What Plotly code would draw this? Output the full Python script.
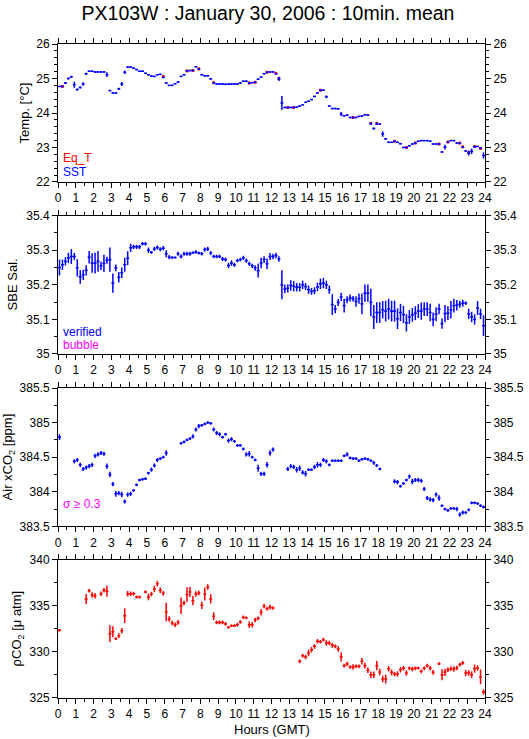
import plotly.graph_objects as go

# ---------------- data (10-minute means, slot centres at xx:05, xx:15, ...) ----------------
hours = [(k + 0.5) / 6 for k in range(144)]
N = None

sst = [
    24.77, 24.77, 24.87, 25.00, 25.05, 24.82,
    24.68, 24.74, 24.84, 25.14, 25.21, 25.21,
    25.19, 25.19, 25.19, 25.19, 25.11, 24.65,
    24.58, 24.58, 24.70, 24.84, 25.18, 25.33,
    25.33, 25.30, 25.26, 25.21, 25.21, 25.15,
    25.11, 25.07, 25.06, 25.11, 25.12, 25.03,
    24.87, 24.80, 24.80, 24.85, 24.90, 25.06,
    25.11, 25.22, 25.23, 25.23, 25.34, 25.27,
    25.11, 25.08, 25.08, 24.99, 24.87, 24.84,
    24.84, 24.84, 24.83, 24.84, 24.84, 24.84,
    24.84, 24.87, 24.92, 24.92, 24.87, 24.88,
    24.89, 24.98, 25.04, 25.14, 25.18, 25.19,
    25.19, 25.14, 24.99, 24.29, 24.16, 24.16,
    24.16, 24.16, 24.17, 24.20, 24.24, 24.31,
    24.34, 24.39, 24.48, 24.58, 24.66, 24.66,
    24.47, 24.20, 24.13, 24.13, 24.12, 23.97,
    23.92, 23.94, 23.87, 23.87, 23.87, 23.90,
    23.91, 23.95, 23.94, 23.69, 23.55, 23.69,
    23.68, 23.39, 23.25, 23.15, 23.15, 23.18,
    23.15, 23.11, 23.00, 23.00, 23.05, 23.10,
    23.13, 23.18, 23.20, 23.20, 23.20, 23.18,
    23.10, 23.10, 23.10, 22.87, 23.01, 23.15,
    23.20, 23.20, 23.13, 23.12, 23.01, 22.90,
    22.84, 22.89, 23.02, 23.03, 22.98, 22.77,
]
sst_err = [
    .02, .02, .03, .03, .03, .09,
    .03, .03, .05, .03, .02, .02,
    .02, .02, .02, .02, .07, .02,
    .02, .02, .03, .06, .05, .02,
    .02, .02, .02, .02, .02, .02,
    .02, .02, .02, .02, .02, .02,
    .02, .02, .02, .02, .02, .02,
    .02, .02, .02, .02, .02, .02,
    .02, .02, .02, .02, .02, .02,
    .02, .02, .02, .02, .02, .02,
    .02, .02, .02, .02, .02, .02,
    .02, .02, .02, .02, .02, .02,
    .02, .02, .06, .20, .02, .02,
    .02, .02, .02, .02, .02, .02,
    .02, .02, .02, .02, .02, .02,
    .04, .02, .02, .02, .02, .06,
    .02, .02, .02, .02, .02, .02,
    .02, .02, .02, .03, .03, .03,
    .02, .08, .02, .02, .02, .02,
    .02, .02, .02, .02, .02, .02,
    .02, .02, .02, .02, .02, .02,
    .02, .02, .02, .02, .07, .02,
    .02, .02, .02, .02, .02, .02,
    .07, .08, .03, .02, .02, .09,
]

eqt_hours = [0.25, 5.917, 7.25, 7.583, 7.917, 8.75, 10.75, 11.083, 11.75, 12.25, 12.417,
             12.917, 13.25, 14.75, 16.583, 17.583, 17.917, 18.917, 19.583, 20.083, 21.417,
             21.917, 22.583, 22.75, 23.083, 23.417, 23.75]
eqt = [24.77, 25.06, 25.22, 25.23, 25.28, 24.88, 24.87, 24.89, 25.18, 25.15, 25.00,
       24.16, 24.16, 24.66, 23.87, 23.70, 23.70, 23.18, 23.00, 23.13, 23.10,
       23.16, 23.13, 23.02, 22.85, 23.03, 22.97]

sal = [
    35.250, 35.258, 35.268, 35.278, 35.282, 35.282,
    35.249, 35.223, 35.229, 35.242, 35.280, 35.263,
    35.263, 35.268, 35.255, 35.262, 35.271, 35.273,
    35.205, 35.249, 35.222, 35.235, 35.258, 35.277,
    35.307, 35.310, 35.310, 35.310, 35.319, 35.319,
    35.300, 35.294, 35.304, 35.308, 35.303, 35.306,
    35.290, 35.280, 35.279, 35.279, 35.290, 35.282,
    35.290, 35.290, 35.290, 35.293, 35.295, 35.292,
    35.290, 35.302, 35.304, 35.292, 35.282, 35.282,
    35.282, 35.275, 35.273, 35.256, 35.263, 35.258,
    35.270, 35.273, 35.278, 35.270, 35.261, 35.255,
    35.249, 35.241, 35.263, 35.273, 35.261, 35.282,
    35.282, 35.285, 35.275, 35.200, 35.188, 35.190,
    35.198, 35.196, 35.193, 35.193, 35.200, 35.195,
    35.186, 35.181, 35.183, 35.194, 35.203, 35.205,
    35.200, 35.186, 35.143, 35.130, 35.149, 35.165,
    35.140, 35.157, 35.162, 35.160, 35.152, 35.160,
    35.145, 35.176, 35.176, 35.149, 35.107, 35.120,
    35.120, 35.128, 35.124, 35.130, 35.124, 35.124,
    35.102, 35.120, 35.114, 35.090, 35.107, 35.113,
    35.118, 35.124, 35.124, 35.130, 35.130, 35.120,
    35.100, 35.115, 35.130, 35.088, 35.117, 35.118,
    35.128, 35.140, 35.141, 35.144, 35.147, 35.147,
    35.116, 35.107, 35.100, 35.133, 35.116, 35.082,
]
sal_err = [
    .023, .015, .012, .015, .022, .010,
    .025, .020, .015, .015, .018, .028,
    .030, .030, .012, .025, .010, .035,
    .028, .010, .015, .015, .020, .020,
    .012, .006, .006, .006, .005, .005,
    .008, .004, .006, .006, .006, .006,
    .010, .006, .004, .003, .006, .006,
    .006, .006, .006, .004, .005, .004,
    .005, .006, .006, .006, .005, .005,
    .005, .006, .006, .008, .008, .006,
    .005, .005, .006, .006, .006, .006,
    .008, .020, .015, .010, .015, .010,
    .008, .008, .008, .042, .012, .012,
    .015, .015, .012, .012, .012, .010,
    .012, .010, .010, .012, .015, .015,
    .012, .012, .030, .012, .010, .012,
    .020, .010, .010, .008, .015, .015,
    .030, .025, .025, .040, .035, .030,
    .030, .025, .030, .030, .030, .030,
    .030, .025, .025, .025, .020, .020,
    .020, .020, .025, .020, .020, .025,
    .020, .020, .015, .015, .025, .020,
    .025, .020, .015, .010, .010, .005,
    .015, .015, .015, .020, .015, .030,
]

air = [
    384.79, N, N, N, N, 384.44,
    384.46, 384.39, 384.33, 384.35, 384.37, 384.39,
    384.52, 384.54, 384.56, 384.55, 384.37, 384.25,
    384.11, 383.97, 383.98, 383.96, 383.86, 383.96,
    383.97, 384.02, 384.10, 384.17, 384.18, 384.19,
    384.27, 384.32, 384.38, 384.46, 384.48, 384.50,
    384.56, N, N, N, N, 384.70,
    384.72, 384.75, 384.77, 384.80, 384.90, 384.95,
    384.96, 384.98, 385.00, 384.99, 384.90, 384.85,
    384.83, 384.79, 384.83, 384.74, 384.76, 384.73,
    384.67, 384.67, 384.62, 384.54, 384.55, 384.50,
    384.46, 384.34, 384.26, 384.26, 384.39, 384.56,
    384.61, N, N, N, N, 384.33,
    384.37, 384.36, 384.32, 384.34, 384.28, 384.26,
    384.32, 384.32, 384.36, 384.39, 384.39, 384.46,
    384.44, 384.39, 384.45, 384.45, 384.45, 384.45,
    384.52, 384.54, 384.49, 384.48, 384.48, 384.45,
    384.47, 384.48, 384.47, 384.45, 384.42, 384.38,
    384.33, N, N, N, N, 384.15,
    384.14, 384.08, 384.12, 384.17, 384.22, 384.15,
    384.17, 384.17, 384.16, 384.04, 383.91, 383.89,
    383.88, 383.96, 383.91, 383.80, 383.75, 383.73,
    383.76, 383.76, 383.75, 383.67, 383.70, 383.70,
    383.74, 383.84, 383.84, 383.83, 383.80, 383.78,
]
air_err = [
    .04, 0, 0, 0, 0, .03,
    .03, .03, .03, .03, .03, .03,
    .03, .03, .03, .03, .04, .04,
    .03, .04, .03, .04, .03, .03,
    .03, .02, .02, .02, .02, .02,
    .02, .03, .03, .03, .02, .02,
    .04, 0, 0, 0, 0, .02,
    .02, .02, .02, .03, .03, .03,
    .02, .02, .02, .02, .03, .03,
    .03, .02, .02, .03, .03, .02,
    .02, .02, .02, .03, .04, .02,
    .02, .05, .03, .03, .04, .04,
    .03, 0, 0, 0, 0, .03,
    .03, .03, .04, .04, .03, .04,
    .02, .02, .03, .04, .03, .03,
    .03, .02, .02, .02, .02, .02,
    .02, .03, .02, .02, .02, .02,
    .02, .02, .02, .02, .03, .02,
    .02, 0, 0, 0, 0, .03,
    .03, .02, .02, .02, .03, .04,
    .03, .03, .03, .03, .03, .03,
    .03, .03, .04, .02, .02, .02,
    .02, .02, .03, .03, .03, .02,
    .02, .02, .02, .02, .02, .02,
]

pco2 = [
    332.34, N, N, N, N, N,
    N, N, N, 335.74, 336.64, 336.17,
    336.10, N, 336.31, 336.68, 336.57, 331.98,
    332.19, 331.43, 331.76, 332.30, 333.93, 336.31,
    336.31, 336.31, 335.95, 335.95, N, 336.50,
    335.95, 336.28, 336.82, 337.40, 336.68, 336.35,
    334.33, 333.57, 333.13, 332.95, 333.20, 335.01,
    335.30, 336.20, 336.50, 335.55, 336.28, 336.39,
    335.05, 336.28, 337.04, 335.74, 333.86, 333.20,
    333.20, 333.20, 333.03, 332.66, 332.84, 332.84,
    332.95, 333.24, 333.75, 333.70, 332.95, 332.95,
    333.46, 333.64, 334.29, 334.97, 334.69, 334.85,
    334.76, N, N, N, N, N,
    N, N, N, 328.98, 329.59, 329.45,
    329.88, 330.24, 330.60, 331.15, 331.10, 331.33,
    330.96, 330.96, 330.71, 330.60, 330.31, 329.45,
    328.51, 328.69, 328.36, 328.36, 328.43, 328.43,
    328.98, 328.51, 328.00, 327.53, 327.53, 328.51,
    327.82, 327.06, 327.06, 328.18, 327.78, 327.60,
    327.60, 328.07, 328.22, 327.71, 328.22, 328.15,
    328.22, 328.25, 327.89, 328.22, 328.51, 328.22,
    327.78, N, 328.72, 327.53, 327.78, 328.07,
    328.18, 328.15, 328.25, 328.62, 328.80, 327.71,
    327.71, 327.53, 328.18, 328.25, 327.28, 325.65,
]
pco2_err = [
    .15, 0, 0, 0, 0, 0,
    0, 0, 0, .55, .20, .30,
    .30, 0, .25, .25, .60, .90,
    .60, .15, .25, .30, .80, .30,
    .25, .20, .15, .15, 0, .15,
    .35, .25, .35, .30, .30, .25,
    1.00, .30, .25, .25, .25, .90,
    .25, .80, .55, .50, .30, .25,
    .40, .70, .30, .50, .40, .20,
    .20, .20, .20, .15, .15, .15,
    .20, .20, .20, .15, .35, .30,
    .25, .20, .35, .25, .20, .25,
    .20, 0, 0, 0, 0, 0,
    0, 0, 0, .20, .20, .25,
    .35, .30, .25, .25, .20, .20,
    .30, .25, .25, .20, .30, .50,
    .20, .25, .20, .30, .20, .20,
    .35, .30, .30, .35, .35, .50,
    .35, .35, .50, .30, .30, .25,
    .30, .30, .25, .30, .20, .25,
    .20, .15, .20, .20, .20, .25,
    .25, 0, .15, .60, .40, .25,
    .25, .30, .25, .20, .20, .35,
    .30, .35, .45, .30, .80, .30,
]

hour_ticks = list(range(0, 25))

BLUE = "#0000FF"
RED = "#FF0000"
MAGENTA = "#FF00FF"
FONT = "Liberation Sans, Arial, Helvetica, sans-serif"

FIG_W, FIG_H = 529, 739

fig = go.Figure()


def add_series(x, y, err, color, xa, ya, half_w=1 / 12, thick=1.5):
    fig.add_trace(go.Scatter(
        x=x, y=y, mode="markers", xaxis=xa, yaxis=ya,
        marker=dict(size=1, color=color),
        error_x=dict(type="constant", value=half_w, width=0, thickness=thick, color=color),
        error_y=dict(type="data", array=err, width=0, thickness=thick, color=color),
        showlegend=False, hoverinfo="x+y",
    ))


# Panel 1: Eq_T underneath SST
fig.add_trace(go.Scatter(
    x=eqt_hours, y=eqt, mode="markers", xaxis="x", yaxis="y",
    marker=dict(size=1, color=RED),
    error_x=dict(type="constant", value=0.07, width=0, thickness=3, color=RED),
    showlegend=False,
))
add_series(hours, sst, sst_err, BLUE, "x", "y")
add_series(hours, sal, sal_err, BLUE, "x2", "y2")
add_series(hours, air, air_err, BLUE, "x3", "y3")
add_series(hours, pco2, pco2_err, RED, "x4", "y4")

# geometry (page pixels of the plot area)
PLOT_TOP, PLOT_BOT, PLOT_L, PLOT_R = 44.3, 698.3, 58.3, 485.3
PLOT_W = PLOT_R - PLOT_L
PLOT_H = PLOT_BOT - PLOT_TOP

domains = [[0.789, 1.0], [0.526, 0.7375], [0.2624, 0.474], [0.0, 0.2115]]
yranges = [[22, 26], [35.0, 35.4], [383.5, 385.5], [325, 340]]
ydticks = [1, 0.1, 0.5, 5]
yminor = [0.2, 0.05, 0.25, 2.5]
tickfont = dict(family=FONT, size=12, color="black")

layout = dict(
    width=FIG_W, height=FIG_H,
    margin=dict(l=PLOT_L, r=FIG_W - PLOT_R, t=PLOT_TOP, b=FIG_H - PLOT_BOT, pad=0),
    paper_bgcolor="white", plot_bgcolor="white",
    title=dict(text="PX103W : January 30, 2006 : 10min. mean", x=268 / FIG_W,
               xanchor="center", y=1 - 13 / FIG_H, yanchor="middle", yref="container",
               font=dict(family=FONT, size=19.5, color="black")),
    showlegend=False,
    hovermode=False,
)

for i in range(4):
    n = i + 1
    xs = "" if n == 1 else str(n)
    layout["xaxis" + xs] = dict(
        domain=[0, 1], anchor="y" + xs, range=[0, 24],
        tickmode="array", tickvals=hour_ticks, ticktext=[str(h) for h in hour_ticks],
        ticks="outside", ticklen=5, tickwidth=1, tickcolor="black",
        minor=dict(dtick=0.5, tick0=0, ticks="outside", ticklen=3, tickwidth=1, tickcolor="black"),
        showline=True, linecolor="black", linewidth=1, mirror="ticks",
        showgrid=False, zeroline=False, tickfont=tickfont, automargin=False,
    )
    layout["yaxis" + xs] = dict(
        domain=domains[i], anchor="x" + xs, range=yranges[i],
        dtick=ydticks[i], tick0=yranges[i][0],
        ticks="outside", ticklen=5, tickwidth=1, tickcolor="black",
        minor=dict(dtick=yminor[i], ticks="outside", ticklen=3, tickwidth=1, tickcolor="black"),
        showline=True, linecolor="black", linewidth=1,
        showgrid=False, zeroline=False, tickfont=tickfont, automargin=False,
    )
    rs = str(n + 4)
    layout["yaxis" + rs] = dict(
        overlaying="y" + xs, side="right", anchor="x" + xs, range=yranges[i],
        dtick=ydticks[i], tick0=yranges[i][0],
        ticks="outside", ticklen=5, tickwidth=1, tickcolor="black",
        minor=dict(dtick=yminor[i], ticks="outside", ticklen=3, tickwidth=1, tickcolor="black"),
        showline=True, linecolor="black", linewidth=1,
        showgrid=False, zeroline=False, tickfont=tickfont, automargin=False,
    )

fig.update_layout(**layout)

# invisible traces so the right axes render
for i in range(4):
    xs = "" if i == 0 else str(i + 1)
    fig.add_trace(go.Scatter(x=[None], y=[None], xaxis="x" + xs, yaxis="y" + str(i + 5),
                             showlegend=False, hoverinfo="skip"))


def px(xp):
    return (xp - PLOT_L) / PLOT_W


def py(yp):
    return (PLOT_BOT - yp) / PLOT_H


ann = []
ytitles = [("Temp. [°C]", 25, 113), ("SBE Sal.", 13, 285),
           ("Air xCO<sub>2</sub> [ppm]", 9, 457), ("ρCO<sub>2</sub> [μ atm]", 18, 629)]
for txt, xp, yp in ytitles:
    ann.append(dict(text=txt, x=px(xp), y=py(yp), xref="paper", yref="paper",
                    xanchor="center", yanchor="middle", textangle=-90, showarrow=False,
                    font=dict(family=FONT, size=13, color="black")))

legend_items = [("Eq_T", RED, 158), ("SST", BLUE, 172),
                ("verified", BLUE, 332), ("bubble", MAGENTA, 345),
                ("σ ≥ 0.3", MAGENTA, 504)]
for txt, col, yp in legend_items:
    ann.append(dict(text=txt, x=px(61), y=py(yp), xref="paper", yref="paper",
                    xanchor="left", yanchor="middle", showarrow=False,
                    font=dict(family=FONT, size=12, color=col)))

ann.append(dict(text="Hours (GMT)", x=px(272), y=py(730), xref="paper", yref="paper",
                xanchor="center", yanchor="middle", showarrow=False,
                font=dict(family=FONT, size=13, color="black")))

fig.update_layout(annotations=ann)

# remove the browser's default 8px body margin so the figure sits at the page origin
fig.write_html("out.html", config={"displayModeBar": False},
               post_script="document.body.style.margin='0px';")
